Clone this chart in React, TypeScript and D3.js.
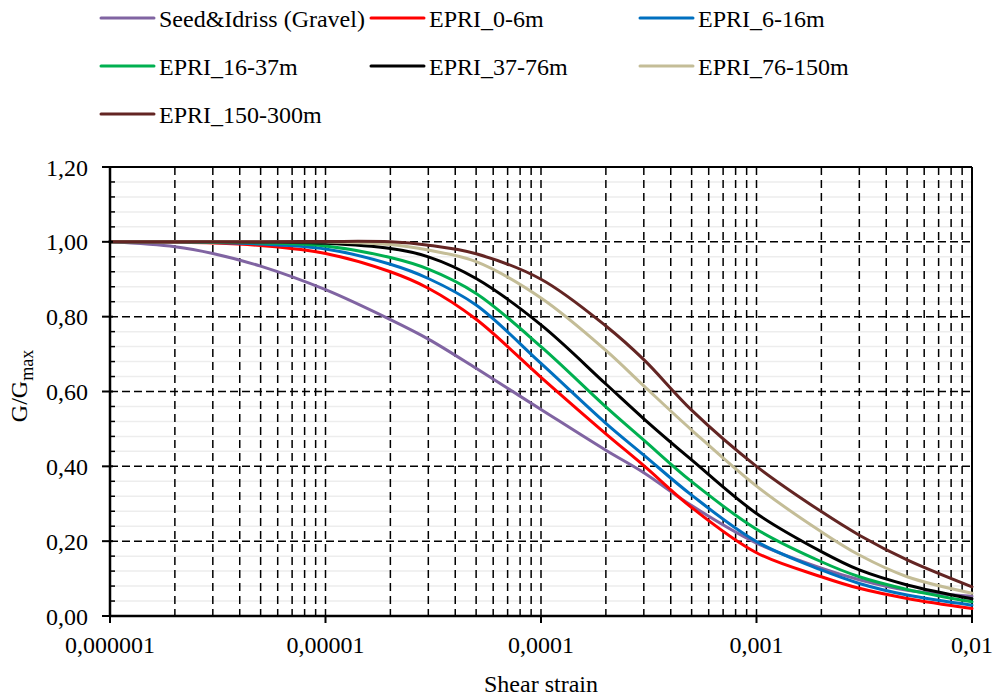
import React from 'react';
import * as d3 from 'd3';

const strain = [1e-6, 2e-6, 3e-6, 5e-6, 1e-5, 2e-5, 3e-5, 5e-5, 1e-4, 2e-4, 3e-4, 5e-4, 1e-3, 2e-3, 3e-3, 5e-3, 1e-2];

const seedIdriss = [1.0, 0.987, 0.969, 0.935, 0.872, 0.792, 0.740, 0.662, 0.552, 0.443, 0.383, 0.295, 0.195, 0.128, 0.097, 0.069, 0.053];
const epri0_6 = [1.0, 0.999, 0.997, 0.99, 0.969, 0.920, 0.876, 0.793, 0.638, 0.487, 0.402, 0.290, 0.169, 0.105, 0.074, 0.047, 0.02];
const epri6_16 = [1.0, 1.0, 0.998, 0.994, 0.981, 0.94, 0.902, 0.831, 0.675, 0.515, 0.43, 0.323, 0.199, 0.123, 0.087, 0.056, 0.029];
const epri16_37 = [1.0, 1.0, 0.999, 0.997, 0.989, 0.958, 0.927, 0.862, 0.72, 0.559, 0.47, 0.359, 0.232, 0.145, 0.105, 0.071, 0.038];
const epri37_76 = [1.0, 1.0, 1.0, 0.999, 0.996, 0.982, 0.96, 0.902, 0.778, 0.62, 0.527, 0.417, 0.274, 0.172, 0.123, 0.083, 0.046];
const epri76_150 = [1.0, 1.0, 1.0, 1.0, 1.0, 0.993, 0.978, 0.947, 0.85, 0.71, 0.615, 0.497, 0.347, 0.225, 0.163, 0.105, 0.061];
const epri150_300 = [1.0, 1.0, 1.0, 1.0, 1.001, 1.0, 0.991, 0.968, 0.9, 0.775, 0.685, 0.55, 0.40, 0.279, 0.216, 0.15, 0.078];

const seriesNames = ['Seed&Idriss (Gravel)', 'EPRI_0-6m', 'EPRI_6-16m', 'EPRI_16-37m', 'EPRI_37-76m', 'EPRI_76-150m', 'EPRI_150-300m'];
const seriesValues = [seedIdriss, epri0_6, epri6_16, epri16_37, epri37_76, epri76_150, epri150_300];
const seriesColors = ['#8064A2', '#FF0000', '#0070C0', '#00B050', '#000000', '#C4BD97', '#632523'];

const xTickValues = [1e-6, 1e-5, 1e-4, 1e-3, 1e-2];
const xTickLabels = ['0,000001', '0,00001', '0,0001', '0,001', '0,01'];
const yTickValues = [0, 0.2, 0.4, 0.6, 0.8, 1.0, 1.2];
const yTickLabels = ['0,00', '0,20', '0,40', '0,60', '0,80', '1,00', '1,20'];

const W = 996;
const H = 697;
const plot = { left: 110, right: 972, top: 167, bottom: 616 };
const FONT = '"Liberation Serif", "Times New Roman", serif';

export default function App() {
  const x = d3.scaleLog().domain([1e-6, 1e-2]).range([plot.left, plot.right]);
  const y = d3.scaleLinear().domain([0, 1.2]).range([plot.bottom, plot.top]);

  const minorX: number[] = [];
  for (let e = -6; e < -2; e++) {
    for (let m = 2; m <= 9; m++) minorX.push(m * Math.pow(10, e));
  }
  const decadeGrid = [1e-5, 1e-4, 1e-3];
  const minorY = d3.range(0, 31).map((i) => i * 0.04).filter((v) => v > 0 && v < 1.19 && Math.abs(v / 0.2 - Math.round(v / 0.2)) > 1e-6);
  const majorGridY = [0.2, 0.4, 0.6, 0.8, 1.0];

  const line = d3
    .line<number>()
    .x((_, i) => x(strain[i]))
    .y((d) => y(d))
    .curve(d3.curveCatmullRom.alpha(0.5));

  const legendCols = [101, 371, 640];
  const legendRows = [18, 66, 114];

  return (
    <svg width={W} height={H} style={{ position: 'absolute', left: 0, top: 0, background: '#fff' }} fontFamily={FONT}>
      <rect x={0} y={0} width={W} height={H} fill="#fff" />
      {minorY.map((v, i) => (
        <line key={'my' + i} x1={plot.left} x2={plot.right} y1={y(v)} y2={y(v)} stroke="#ededed" strokeWidth={1.5} />
      ))}
      {[...minorX, ...decadeGrid].map((v, i) => (
        <line key={'vx' + i} x1={x(v)} x2={x(v)} y1={plot.top} y2={plot.bottom} stroke="#000" strokeWidth={1.5} strokeDasharray="8,5" />
      ))}
      {majorGridY.map((v, i) => (
        <line key={'hy' + i} x1={plot.left} x2={plot.right} y1={y(v)} y2={y(v)} stroke="#000" strokeWidth={1.5} strokeDasharray="8,4" />
      ))}
      <line x1={plot.left} x2={plot.right} y1={plot.top} y2={plot.top} stroke="#000" strokeWidth={2} />
      <line x1={plot.right} x2={plot.right} y1={plot.top} y2={plot.bottom} stroke="#000" strokeWidth={2} />
      {seriesValues.map((vals, i) => (
        <path key={'s' + i} d={line(vals) || ''} fill="none" stroke={seriesColors[i]} strokeWidth={3} strokeLinejoin="round" strokeLinecap="round" />
      ))}
      <line x1={plot.left} x2={plot.left} y1={plot.top - 1} y2={plot.bottom + 1} stroke="#000" strokeWidth={2.5} />
      <line x1={plot.left - 1} x2={plot.right + 1} y1={plot.bottom} y2={plot.bottom} stroke="#000" strokeWidth={2.5} />
      {minorY.map((v, i) => (
        <line key={'myt' + i} x1={plot.left} x2={plot.left + 5} y1={y(v)} y2={y(v)} stroke="#000" strokeWidth={1.5} />
      ))}
      {yTickValues.map((v, i) => (
        <g key={'yt' + i}>
          <line x1={plot.left - 8} x2={plot.left + 3} y1={y(v)} y2={y(v)} stroke="#000" strokeWidth={2} />
          <text x={88} y={y(v) + 8.5} textAnchor="end" fontSize={24} fill="#000">
            {yTickLabels[i]}
          </text>
        </g>
      ))}
      {xTickValues.map((v, i) => (
        <g key={'xt' + i}>
          <line x1={x(v)} x2={x(v)} y1={plot.bottom} y2={plot.bottom + 7} stroke="#000" strokeWidth={2} />
          <text x={x(v)} y={653} textAnchor="middle" fontSize={24} fill="#000">
            {xTickLabels[i]}
          </text>
        </g>
      ))}
      <text x={(plot.left + plot.right) / 2} y={692} textAnchor="middle" fontSize={24} fill="#000">
        Shear strain
      </text>
      <text transform="translate(27, 386) rotate(-90)" textAnchor="middle" fontSize={24} fill="#000">
        G/G<tspan fontSize={18} dy={6}>max</tspan>
      </text>
      {seriesNames.map((name, i) => {
        const cx = legendCols[i % 3];
        const cy = legendRows[Math.floor(i / 3)];
        return (
          <g key={'lg' + i}>
            <line x1={cx} x2={cx + 53} y1={cy} y2={cy} stroke={seriesColors[i]} strokeWidth={3} strokeLinecap="round" />
            <text x={cx + 58} y={cy + 9} fontSize={24} fill="#000">
              {name}
            </text>
          </g>
        );
      })}
    </svg>
  );
}
